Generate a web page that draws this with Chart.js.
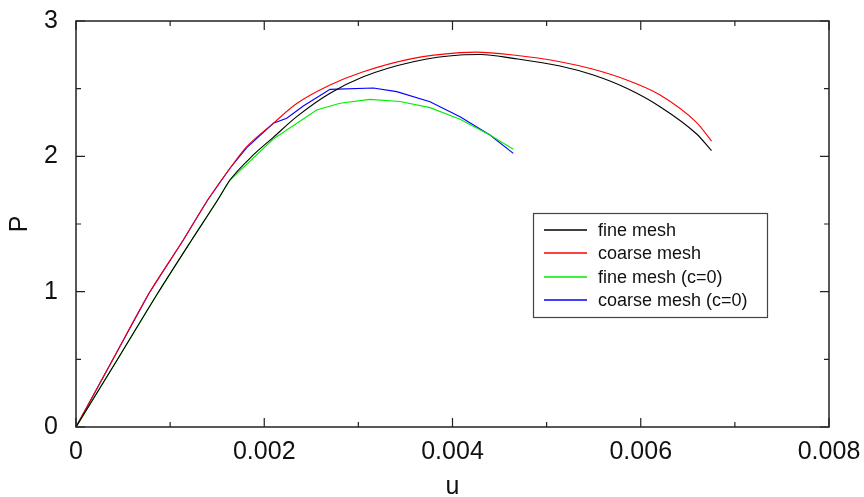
<!DOCTYPE html>
<html>
<head>
<meta charset="utf-8">
<script src="https://cdn.jsdelivr.net/npm/chart.js@4.4.0/dist/chart.umd.min.js"></script>
<style>
  html, body { margin: 0; padding: 0; background: #fff; }
  #wrap { width: 864px; height: 497px; }
</style>
</head>
<body>
<div id="wrap"><canvas id="c" width="864" height="497"></canvas></div>
<script>
// ---- data (u, P) ----
const seriesNames = ['fine mesh', 'coarse mesh', 'fine mesh (c=0)', 'coarse mesh (c=0)'];
const seriesColors = ['#000000', '#ff0000', '#00ee00', '#0000ff'];

const fineU   = [0, 0.00045, 0.000868, 0.001229, 0.001505, 0.001636, 0.001884, 0.002096, 0.002345, 0.002699, 0.003052, 0.003584, 0.00408, 0.0043, 0.004646, 0.005142, 0.005496, 0.005851, 0.006205, 0.006594, 0.006752];
const fineP   = [0, 0.51, 0.988, 1.382, 1.677, 1.825, 2.010, 2.140, 2.293, 2.466, 2.588, 2.699, 2.749, 2.752, 2.724, 2.668, 2.601, 2.503, 2.367, 2.165, 2.042];

const coarseU = [0, 0.0004, 0.000776, 0.00114, 0.001399, 0.001636, 0.001814, 0.002096, 0.002345, 0.002699, 0.003052, 0.003584, 0.00408, 0.00425, 0.004646, 0.005142, 0.005496, 0.005851, 0.006205, 0.006594, 0.006752];
const coarseP = [0, 0.51, 0.988, 1.382, 1.677, 1.912, 2.071, 2.244, 2.390, 2.527, 2.625, 2.724, 2.766, 2.770, 2.749, 2.699, 2.643, 2.564, 2.453, 2.249, 2.113];

const fineC0U = [0, 0.00045, 0.000868, 0.001229, 0.001505, 0.001636, 0.002096, 0.002557, 0.002805, 0.003124, 0.003442, 0.003761, 0.00408, 0.004398, 0.004646];
const fineC0P = [0, 0.51, 0.988, 1.382, 1.677, 1.825, 2.128, 2.342, 2.392, 2.421, 2.405, 2.360, 2.274, 2.158, 2.052];

const coarseC0U = [0, 0.0004, 0.000776, 0.00114, 0.001399, 0.001636, 0.001814, 0.002096, 0.002239, 0.002415, 0.002699, 0.003159, 0.003407, 0.003761, 0.00408, 0.004398, 0.004646];
const coarseC0P = [0, 0.51, 0.988, 1.382, 1.677, 1.912, 2.065, 2.244, 2.281, 2.372, 2.495, 2.505, 2.478, 2.404, 2.293, 2.158, 2.022];

const xTickValues = [0, 0.002, 0.004, 0.006, 0.008];
const xTickLabels = ['0', '0.002', '0.004', '0.006', '0.008'];
const yTickValues = [0, 1, 2, 3];
const yTickLabels = ['0', '1', '2', '3'];
const xTitle = 'u';
const yTitle = 'P';

function pts(us, ps) { return us.map((u, i) => ({ x: u, y: ps[i] })); }
const allU = [fineU, coarseU, fineC0U, coarseC0U];
const allP = [fineP, coarseP, fineC0P, coarseC0P];
const smooth = [true, true, false, false];

const FONT = '"Liberation Sans", Arial, Helvetica, sans-serif';

const framePlugin = {
  id: 'frame',
  afterDraw(chart) {
    const ctx = chart.ctx;
    const a = chart.chartArea;
    const xs = chart.scales.x, ys = chart.scales.y;
    ctx.save();
    ctx.strokeStyle = '#222';
    ctx.lineWidth = 1.5;
    ctx.strokeRect(a.left, a.top, a.right - a.left, a.bottom - a.top);
    ctx.lineWidth = 1.2;
    ctx.beginPath();
    for (let i = 0; i < xTickValues.length; i++) {
      const v = xTickValues[i];
      const px = xs.getPixelForValue(v);
      ctx.moveTo(px, a.bottom); ctx.lineTo(px, a.bottom - 9);
      ctx.moveTo(px, a.top); ctx.lineTo(px, a.top + 9);
      if (i < xTickValues.length - 1) {
        const m = xs.getPixelForValue((v + xTickValues[i + 1]) / 2);
        ctx.moveTo(m, a.bottom); ctx.lineTo(m, a.bottom - 5);
        ctx.moveTo(m, a.top); ctx.lineTo(m, a.top + 5);
      }
    }
    for (let i = 0; i < yTickValues.length; i++) {
      const v = yTickValues[i];
      const py = ys.getPixelForValue(v);
      ctx.moveTo(a.left, py); ctx.lineTo(a.left + 9, py);
      ctx.moveTo(a.right, py); ctx.lineTo(a.right - 9, py);
      if (i < yTickValues.length - 1) {
        const m = ys.getPixelForValue((v + yTickValues[i + 1]) / 2);
        ctx.moveTo(a.left, m); ctx.lineTo(a.left + 5, m);
        ctx.moveTo(a.right, m); ctx.lineTo(a.right - 5, m);
      }
    }
    ctx.stroke();

    // legend box
    const bx = 533.5, by = 213.5, bw = 234, bh = 104;
    ctx.fillStyle = '#fff';
    ctx.fillRect(bx, by, bw, bh);
    ctx.strokeStyle = '#444';
    ctx.lineWidth = 1.2;
    ctx.strokeRect(bx, by, bw, bh);
    ctx.font = '18px ' + FONT;
    ctx.textBaseline = 'middle';
    ctx.textAlign = 'left';
    const rowY = [230, 253, 277, 300];
    seriesNames.forEach((name, i) => {
      ctx.strokeStyle = seriesColors[i];
      ctx.lineWidth = 1.5;
      ctx.beginPath();
      ctx.moveTo(544, rowY[i]); ctx.lineTo(587, rowY[i]);
      ctx.stroke();
      ctx.fillStyle = '#111';
      ctx.fillText(name, 598, rowY[i] + 1);
    });
    ctx.restore();
  }
};

new Chart(document.getElementById('c'), {
  type: 'scatter',
  data: {
    datasets: seriesNames.map((name, i) => ({
      label: name,
      data: pts(allU[i], allP[i]),
      showLine: true,
      borderColor: seriesColors[i],
      backgroundColor: seriesColors[i],
      borderWidth: 1.1,
      pointRadius: 0,
      cubicInterpolationMode: smooth[i] ? 'monotone' : 'default',
      tension: 0,
      fill: false
    }))
  },
  options: {
    responsive: false,
    animation: false,
    devicePixelRatio: 1,
    layout: { padding: { left: 0, right: 35, top: 21, bottom: 0 } },
    plugins: { legend: { display: false }, tooltip: { enabled: false } },
    scales: {
      x: {
        type: 'linear', min: 0, max: 0.008,
        afterBuildTicks: s => { s.ticks = xTickValues.map(v => ({ value: v })); },
        afterFit: s => { s.height = 70; s.paddingLeft = 0; s.paddingRight = 0; },
        grid: { display: false, drawTicks: false },
        border: { display: false },
        ticks: {
          callback: (v, i) => xTickLabels[i],
          font: { family: FONT, size: 25 }, color: '#111', padding: 10, maxRotation: 0
        },
        title: { display: true, text: xTitle, font: { family: FONT, size: 25, lineHeight: 0.8 }, color: '#111', padding: { top: 0, bottom: 0 } }
      },
      y: {
        type: 'linear', min: 0, max: 3,
        afterBuildTicks: s => { s.ticks = yTickValues.map(v => ({ value: v })); },
        afterFit: s => { s.width = 76; s.paddingTop = 0; s.paddingBottom = 0; },
        grid: { display: false, drawTicks: false },
        border: { display: false },
        ticks: {
          callback: (v, i) => yTickLabels[i],
          font: { family: FONT, size: 25 }, color: '#111', padding: 18
        },
        title: { display: true, text: yTitle, font: { family: FONT, size: 25 }, color: '#111', padding: { top: 5, bottom: 0 } }
      }
    }
  },
  plugins: [framePlugin]
});
</script>
</body>
</html>
